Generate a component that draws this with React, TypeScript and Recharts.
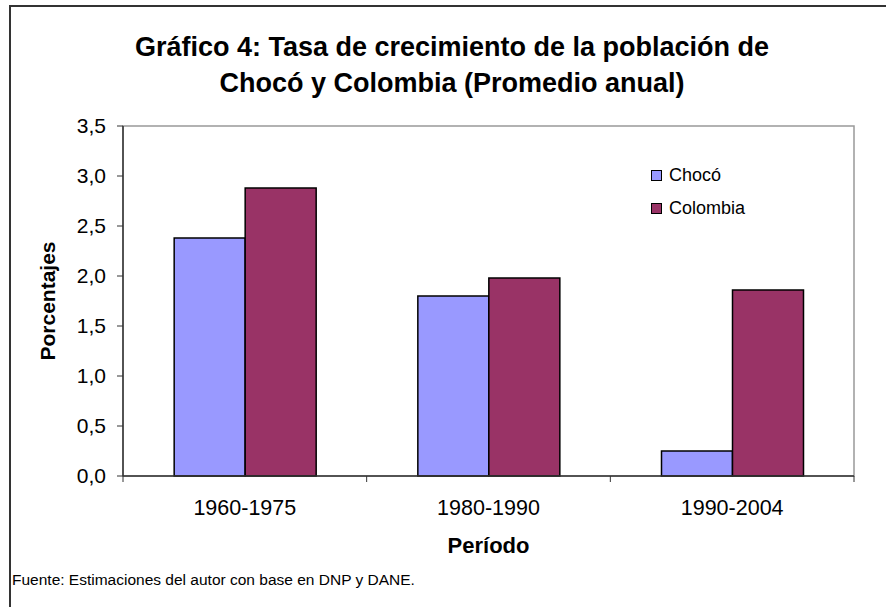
import React from "react";
import {
  BarChart, Bar, XAxis, YAxis, Label, ReferenceArea,
} from "recharts";

const PERIODOS = ["1960-1975", "1980-1990", "1990-2004"];
const CHOCO = [2.38, 1.8, 0.25];
const COLOMBIA = [2.88, 1.98, 1.86];
const Y_TICKS = [0, 0.5, 1, 1.5, 2, 2.5, 3, 3.5];

const SERIES = [
  { key: "choco", name: "Chocó", color: "#9999FF" },
  { key: "colombia", name: "Colombia", color: "#993366" },
];

const data = PERIODOS.map((p, i) => ({
  periodo: p,
  choco: CHOCO[i],
  colombia: COLOMBIA[i],
}));

const FONT = '"Liberation Sans", Arial, sans-serif';
const AXIS = "#333";
const W = 886;
const H = 607;
const Y_W = 63;
const X_H = 71;
const MARGIN = { top: 126, right: 32, bottom: 131 - X_H, left: 123 - Y_W };

const fmt = (v: number) => v.toFixed(1).replace(".", ",");

const XTick = ({ x, y, payload, index, visibleTicksCount }: any) => {
  const plotW = W - 123 - MARGIN.right;
  const half = payload.offset || plotW / PERIODOS.length / 2;
  const axisY = y - 24;
  return (
    <g>
      <line x1={x - half} x2={x - half} y1={axisY} y2={axisY + 6} stroke={AXIS} />
      {index === visibleTicksCount - 1 && (
        <line x1={x + half} x2={x + half} y1={axisY} y2={axisY + 6} stroke={AXIS} />
      )}
      <text x={x} y={y} dy="0.71em" textAnchor="middle" fontSize={21.5} fill="#000" fontFamily={FONT}>
        {payload.value}
      </text>
    </g>
  );
};

// legend drawn as overlay so it does not take room from the plot
const LegendBox = () => (
  <div style={{ position: "absolute", left: 651, top: 159, fontFamily: FONT, fontSize: 18, color: "#000" }}>
    {SERIES.map((s) => (
      <div key={s.key} style={{ display: "flex", alignItems: "center", height: 33 }}>
        <span
          style={{
            display: "inline-block", width: 9, height: 9, background: s.color,
            border: "1px solid #000", marginRight: 7,
          }}
        />
        {s.name}
      </div>
    ))}
  </div>
);

export default function App() {
  return (
    <div style={{ position: "absolute", left: 0, top: 0, width: W, height: H, overflow: "hidden", background: "#fff", fontFamily: FONT }}>
      <div style={{ position: "absolute", left: 9, top: 5, width: 1000, height: 1000, borderTop: "2px solid #333", borderLeft: "2px solid #333" }} />
      <div
        style={{
          position: "absolute", left: 18, top: 29, width: 868, textAlign: "center",
          fontSize: 27, fontWeight: "bold", lineHeight: "36px", color: "#000",
        }}
      >
        Gráfico 4: Tasa de crecimiento de la población de
        <br />
        Chocó y Colombia (Promedio anual)
      </div>
      <BarChart
        width={W}
        height={H}
        data={data}
        margin={MARGIN}
        barCategoryGap="21%"
        barGap={0}
        style={{ position: "absolute", left: 0, top: 0 }}
      >
        <ReferenceArea y1={0} y2={3.5} fill="none" stroke="#999" strokeWidth={1.5} ifOverflow="visible" />
        <XAxis
          dataKey="periodo"
          height={X_H}
          tickSize={6}
          tickMargin={18}
          tickLine={false}
          axisLine={{ stroke: AXIS, strokeWidth: 1.5 }}
          tick={<XTick />}
          interval={0}
        >
          <Label value="Período" position="insideBottom" offset={-6} fontSize={22} fontWeight="bold" fill="#000" fontFamily={FONT} />
        </XAxis>
        <YAxis
          width={Y_W}
          domain={[0, 3.5]}
          ticks={Y_TICKS}
          tickFormatter={fmt}
          tickSize={6}
          tickMargin={11}
          tick={{ fontSize: 21, fill: "#000", fontFamily: FONT }}
          tickLine={{ stroke: AXIS }}
          axisLine={{ stroke: AXIS, strokeWidth: 1.5 }}
          interval={0}
        >
          <Label
            content={() => (
              <text x={55} y={301} transform="rotate(-90 55 301)" textAnchor="middle" fontSize={21} fontWeight="bold" fill="#000" fontFamily={FONT}>
                Porcentajes
              </text>
            )}
          />
        </YAxis>
        {SERIES.map((s) => (
          <Bar
            key={s.key}
            dataKey={s.key}
            name={s.name}
            fill={s.color}
            stroke="#000"
            strokeWidth={1.5}
            isAnimationActive={false}
          />
        ))}
      </BarChart>
      <LegendBox />
      <div style={{ position: "absolute", left: 12, top: 571, fontSize: 15.5, color: "#000", whiteSpace: "nowrap" }}>
        Fuente: Estimaciones del autor con base en DNP y DANE.
      </div>
    </div>
  );
}
